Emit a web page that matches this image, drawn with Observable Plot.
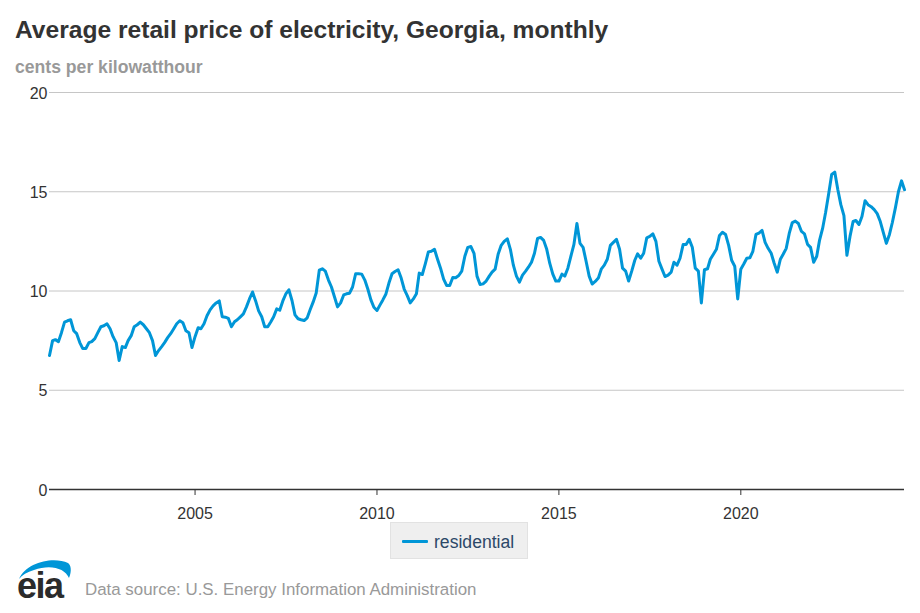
<!DOCTYPE html>
<html>
<head>
<meta charset="utf-8">
<script src="https://cdn.jsdelivr.net/npm/d3@7"></script>
<script src="https://cdn.jsdelivr.net/npm/@observablehq/plot@0.6"></script>
<style>
  body { margin: 0; background: #fff; font-family: "Liberation Sans", Arial, sans-serif; }
  #wrap { position: relative; width: 920px; height: 613px; overflow: hidden; background: #fff; }
  #title { position: absolute; left: 15px; top: 18px; font-size: 24.6px; line-height: 24px; font-weight: bold; color: #333; white-space: nowrap; }
  #sub { position: absolute; left: 15px; top: 59px; font-size: 17.6px; line-height: 17px; font-weight: bold; color: #999; white-space: nowrap; }
  #chart { position: absolute; left: 0; top: 0; }
  #legend { position: absolute; left: 390px; top: 522px; width: 138px; height: 37px; background: #efefef; border: 1px solid #e2e2e2; box-sizing: border-box; }
  #legend .sw { position: absolute; left: 11px; top: 17px; width: 26px; height: 3px; background: #0096d7; border-radius: 1px; }
  #legend .lb { position: absolute; left: 43px; top: 11px; font-size: 17.6px; line-height: 17px; color: #2c4868; white-space: nowrap; }
  #src { position: absolute; left: 85px; top: 581px; font-size: 16.9px; line-height: 17px; color: #999; white-space: nowrap; }
  #logo { position: absolute; left: 12px; top: 554px; overflow: visible; }
</style>
</head>
<body>
<div id="wrap">
  <div id="title">Average retail price of electricity, Georgia, monthly</div>
  <div id="sub">cents per kilowatthour</div>
  <div id="chart"></div>
  <div id="legend"><div class="sw"></div><div class="lb">residential</div></div>
  <svg id="logo" width="66" height="52" viewBox="0 0 66 52">
    <path d="M7,25 C14,8 42,2 56,9 C59,11 60,17 57,24 C53,14 38,10 22,16 C15,18 10,21 7,25 Z" fill="#0096d7"/>
    <text x="5" y="44" font-family="Liberation Sans, Arial, sans-serif" font-weight="bold" font-size="36" fill="#2b2b2b" letter-spacing="-1.5">eia</text>
  </svg>
  <div id="src">Data source: U.S. Energy Information Administration</div>
</div>
<script>
// Monthly residential price, cents per kWh (Georgia), Jan 2001 – Jul 2024
const firstYear = 2001;
const y2001 = [6.75, 7.5, 7.55, 7.45, 7.9, 8.43, 8.5, 8.55, 8.0, 7.85, 7.4, 7.1];
const y2002 = [7.1, 7.4, 7.45, 7.6, 7.9, 8.2, 8.25, 8.35, 8.1, 7.7, 7.4, 6.5];
const y2003 = [7.2, 7.15, 7.5, 7.75, 8.2, 8.3, 8.43, 8.3, 8.1, 7.9, 7.5, 6.75];
const y2004 = [7.0, 7.2, 7.4, 7.65, 7.85, 8.1, 8.35, 8.5, 8.4, 8.0, 7.9, 7.15];
const y2005 = [7.7, 8.15, 8.1, 8.35, 8.75, 9.05, 9.25, 9.4, 9.5, 8.7, 8.68, 8.62];
const y2006 = [8.2, 8.45, 8.55, 8.7, 8.85, 9.2, 9.6, 9.95, 9.5, 9.0, 8.7, 8.2];
const y2007 = [8.2, 8.45, 8.7, 9.1, 9.03, 9.5, 9.85, 10.06, 9.52, 8.8, 8.6, 8.55];
const y2008 = [8.51, 8.65, 9.05, 9.45, 9.9, 11.05, 11.12, 11.0, 10.55, 10.2, 9.7, 9.2];
const y2009 = [9.4, 9.8, 9.86, 9.89, 10.2, 10.87, 10.87, 10.85, 10.55, 10.1, 9.55, 9.18];
const y2010 = [9.02, 9.3, 9.55, 9.85, 10.4, 10.87, 10.98, 11.07, 10.65, 10.1, 9.77, 9.4];
const y2011 = [9.6, 9.86, 10.9, 10.83, 11.37, 11.97, 12.0, 12.1, 11.6, 11.15, 10.6, 10.28];
const y2012 = [10.28, 10.68, 10.67, 10.78, 11.0, 11.75, 12.2, 12.24, 11.9, 10.75, 10.33, 10.36];
const y2013 = [10.5, 10.75, 10.95, 11.1, 11.85, 12.3, 12.5, 12.63, 12.1, 11.3, 10.75, 10.45];
const y2014 = [10.8, 11.0, 11.2, 11.45, 11.9, 12.65, 12.7, 12.55, 12.1, 11.4, 10.85, 10.5];
const y2015 = [10.5, 10.85, 10.75, 11.15, 11.75, 12.35, 13.4, 12.4, 12.2, 11.5, 10.75, 10.35];
const y2016 = [10.48, 10.65, 11.1, 11.3, 11.6, 12.3, 12.45, 12.6, 12.1, 11.15, 11.0, 10.5];
const y2017 = [11.0, 11.55, 11.87, 11.65, 11.9, 12.68, 12.75, 12.88, 12.5, 11.5, 11.1, 10.73];
const y2018 = [10.8, 10.95, 11.45, 11.3, 11.65, 12.34, 12.34, 12.6, 12.2, 11.15, 11.0, 9.4];
const y2019 = [11.07, 11.12, 11.6, 11.85, 12.1, 12.8, 12.96, 12.85, 12.3, 11.55, 11.25, 9.6];
const y2020 = [11.1, 11.37, 11.65, 11.67, 12.0, 12.85, 12.92, 13.05, 12.45, 12.15, 11.9, 11.4];
const y2021 = [10.95, 11.6, 11.85, 12.15, 12.9, 13.45, 13.52, 13.4, 13.0, 12.88, 12.35, 12.2];
const y2022 = [11.45, 11.75, 12.55, 13.15, 13.95, 14.9, 15.87, 15.99, 15.1, 14.35, 13.8, 11.8];
const y2023 = [12.75, 13.5, 13.55, 13.35, 13.75, 14.55, 14.35, 14.25, 14.1, 13.9, 13.5, 12.95];
const y2024 = [12.4, 12.85, 13.45, 14.2, 15.0, 15.55, 15.1];

const yearly = [y2001, y2002, y2003, y2004, y2005, y2006, y2007, y2008, y2009, y2010, y2011, y2012,
                y2013, y2014, y2015, y2016, y2017, y2018, y2019, y2020, y2021, y2022, y2023, y2024];
const xTickYears = [2005, 2010, 2015, 2020];
const yTicks = [0, 5, 10, 15, 20];
const seriesName = "residential";

const data = [];
yearly.forEach((vals, yi) => {
  vals.forEach((v, m) => {
    data.push({date: new Date(Date.UTC(firstYear + yi, m, 1)), value: v, series: seriesName});
  });
});

const last = data[data.length - 1].date;

const chart = Plot.plot({
  width: 920,
  height: 530,
  marginTop: 92,
  marginBottom: 41,
  marginLeft: 49,
  marginRight: 16,
  style: {fontFamily: "Liberation Sans, Arial, sans-serif", fontSize: "16px", color: "#333", background: "transparent", overflow: "visible"},
  x: {type: "utc", domain: [new Date(Date.UTC(firstYear, 0, 1)), last]},
  y: {domain: [0, 20]},
  marks: [
    Plot.gridY(yTicks.filter(d => d > 0), {stroke: "#c6c6c6", strokeOpacity: 1, strokeWidth: 1}),
    Plot.axisY(yTicks, {tickSize: 0, tickPadding: 2, fontSize: 16, fill: "#333", dy: 1, label: null}),
    Plot.axisX(xTickYears.map(y => new Date(Date.UTC(y, 0, 1))), {tickSize: 6, tickPadding: 12, tickFormat: d3.utcFormat("%Y"), fontSize: 16, fill: "#333", stroke: "#333", label: null}),
    Plot.ruleY([0], {stroke: "#333", strokeWidth: 1.5}),
    Plot.lineY(data, {x: "date", y: "value", stroke: "#0096d7", strokeWidth: 3, strokeLinejoin: "round"})
  ]
});
document.getElementById("chart").appendChild(chart);
</script>
</body>
</html>
